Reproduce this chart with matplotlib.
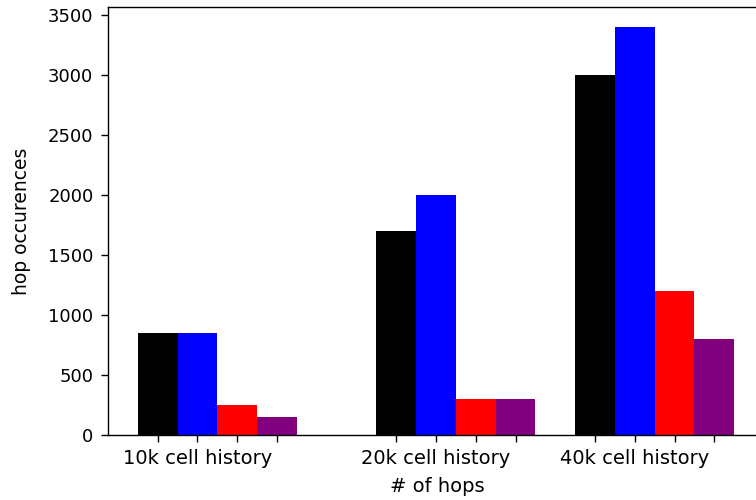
import matplotlib
matplotlib.use("Agg")
import matplotlib.pyplot as plt
import numpy as np

groups = ["10k cell history", "20k cell history", "40k cell history"]
black_vals = [850, 1700, 3000]
blue_vals = [850, 2000, 3400]
red_vals = [250, 300, 1200]
purple_vals = [150, 300, 800]
group_starts = [0, 6, 11]
colors = ["black", "blue", "red", "purple"]

plt.rcParams['font.family'] = ['DejaVu Sans']

fig = plt.figure(figsize=(7.56, 5.0), dpi=100)
ax = fig.add_axes([108/756, 65/500, 656/756, 428/500])

series = [black_vals, blue_vals, red_vals, purple_vals]
ticks = []
labels = []
for gi, start in enumerate(group_starts):
    for si in range(4):
        ticks.append(start + si)
        labels.append(groups[gi] if si == 1 else "")
for si, vals in enumerate(series):
    xs = [s + si for s in group_starts]
    ax.bar(xs, vals, width=1.0, color=colors[si])

ax.set_xticks(ticks)
ax.set_xticklabels(labels, fontsize=14)
ax.tick_params(axis='y', labelsize=13, length=5, pad=5.5, width=1.0)
ax.tick_params(axis='x', length=5, pad=5, width=1.0)
for sp in ax.spines.values():
    sp.set_linewidth(1.0)
ax.set_xlabel("# of hops", fontsize=14)
ax.set_ylabel("hop occurences", fontsize=13.5)
ax.xaxis.set_label_coords(0.5 - (435 - 436) / 656, (435 - 477) / 428)
ax.yaxis.set_label_coords((31 - 108) / 656, 0.5)

fig.savefig("out.png", dpi=100)
